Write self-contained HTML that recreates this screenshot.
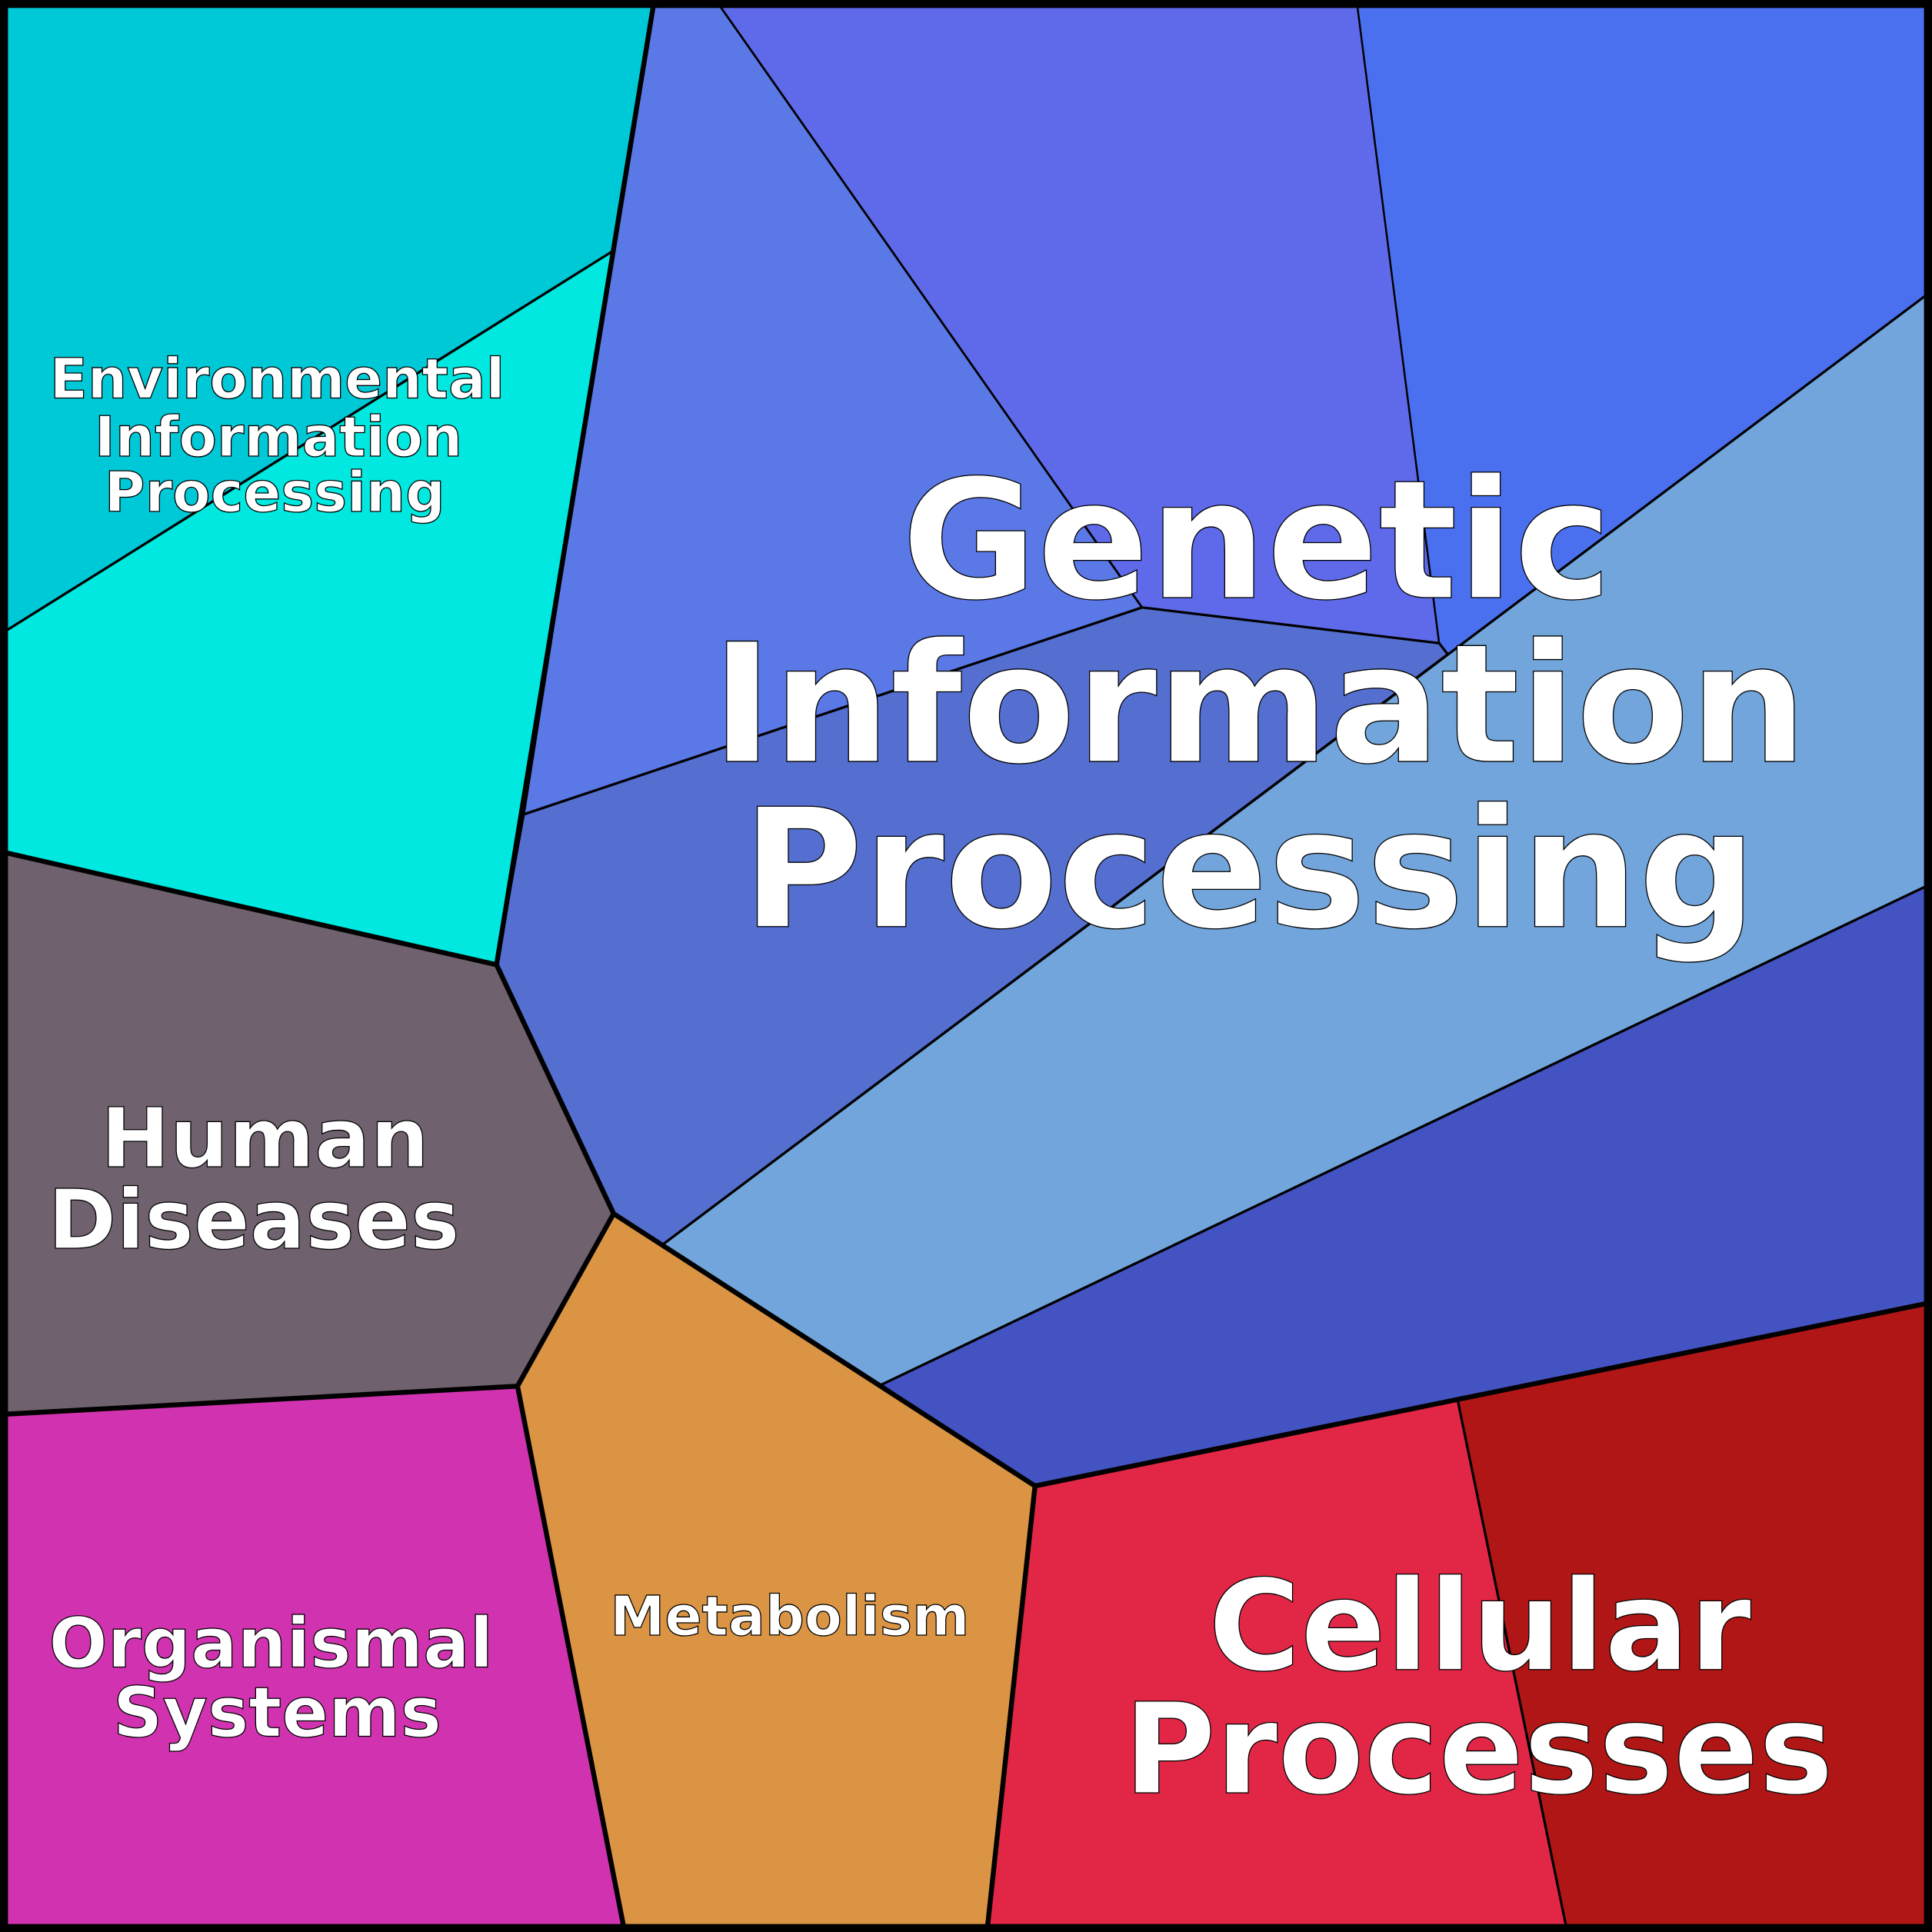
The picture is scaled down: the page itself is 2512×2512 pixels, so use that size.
<!DOCTYPE html>
<html><head><style>html,body{margin:0;padding:0;background:#fff}svg{display:block}</style></head>
<body>
<svg width="2512" height="2512" viewBox="0 0 1568 1568" xmlns="http://www.w3.org/2000/svg">
<g stroke="#000" stroke-width="2" stroke-linejoin="round">
<polygon points="0,0 531,0 497,204 0,515" fill="#00c9d7"/>
<polygon points="0,515 497,204 403,783 0,691" fill="#00e8df"/>
<polygon points="531,0 581,0 927,493 425,661 497,204" fill="#5a78e6"/>
<polygon points="581,0 1101,0 1168,522 927,493" fill="#5e6ae9" stroke-width="1.5"/>
<polygon points="1101,0 1568,0 1568,236 1175,531 1168,522" fill="#4a70ef" stroke-width="1.5"/>
<polygon points="425,661 927,493 1168,522 1175,531 538,1010 498,985 403,783" fill="#546fd0"/>
<polygon points="1568,236 1568,717 715,1124 538,1010" fill="#71a5db"/>
<polygon points="1568,717 1568,1057 840,1206 715,1124" fill="#4453c2"/>
<polygon points="0,691 403,783 498,985 420,1125 0,1148" fill="#6f616e"/>
<polygon points="0,1148 420,1125 507,1568 0,1568" fill="#d133b0"/>
<polygon points="420,1125 498,985 840,1206 801,1568 507,1568" fill="#da9443"/>
<polygon points="840,1206 1183,1136 1272,1568 801,1568" fill="#e12745"/>
<polygon points="1183,1136 1568,1057 1568,1568 1272,1568" fill="#b01615"/>
</g>
<g fill="none" stroke="#000" stroke-width="4" stroke-linejoin="round">
<polyline points="531,0 403,783 0,691"/>
<polyline points="403,783 498,985 420,1125 0,1148"/>
<polyline points="420,1125 507,1568"/>
<polyline points="498,985 840,1206 801,1568"/>
<polyline points="840,1206 1568,1057"/>
<rect x="3" y="3" width="1562" height="1562" stroke-width="7"/>
</g>
<g font-family="'DejaVu Sans','Liberation Sans',sans-serif" font-weight="bold" fill="#fff" stroke="#000" stroke-width="0.8" text-anchor="middle">
<text font-size="134" x="1020" y="485">Genetic</text>
<text font-size="134" x="1022" y="618">Information</text>
<text font-size="134" x="1014" y="752">Processing</text>
<text font-size="102" x="1201" y="1355">Cellular</text>
<text font-size="102" x="1200" y="1455">Processes</text>
<text font-size="67" x="215" y="947">Human</text>
<text font-size="67" x="206" y="1013">Diseases</text>
<text font-size="45" x="225" y="323">Environmental</text>
<text font-size="45" x="226" y="370">Information</text>
<text font-size="45" x="223" y="415">Processing</text>
<text font-size="56" x="220" y="1353">Organismal</text>
<text font-size="56" x="225" y="1409">Systems</text>
<text font-size="44.5" x="641" y="1327">Metabolism</text>
</g>
</svg>
</body></html>
